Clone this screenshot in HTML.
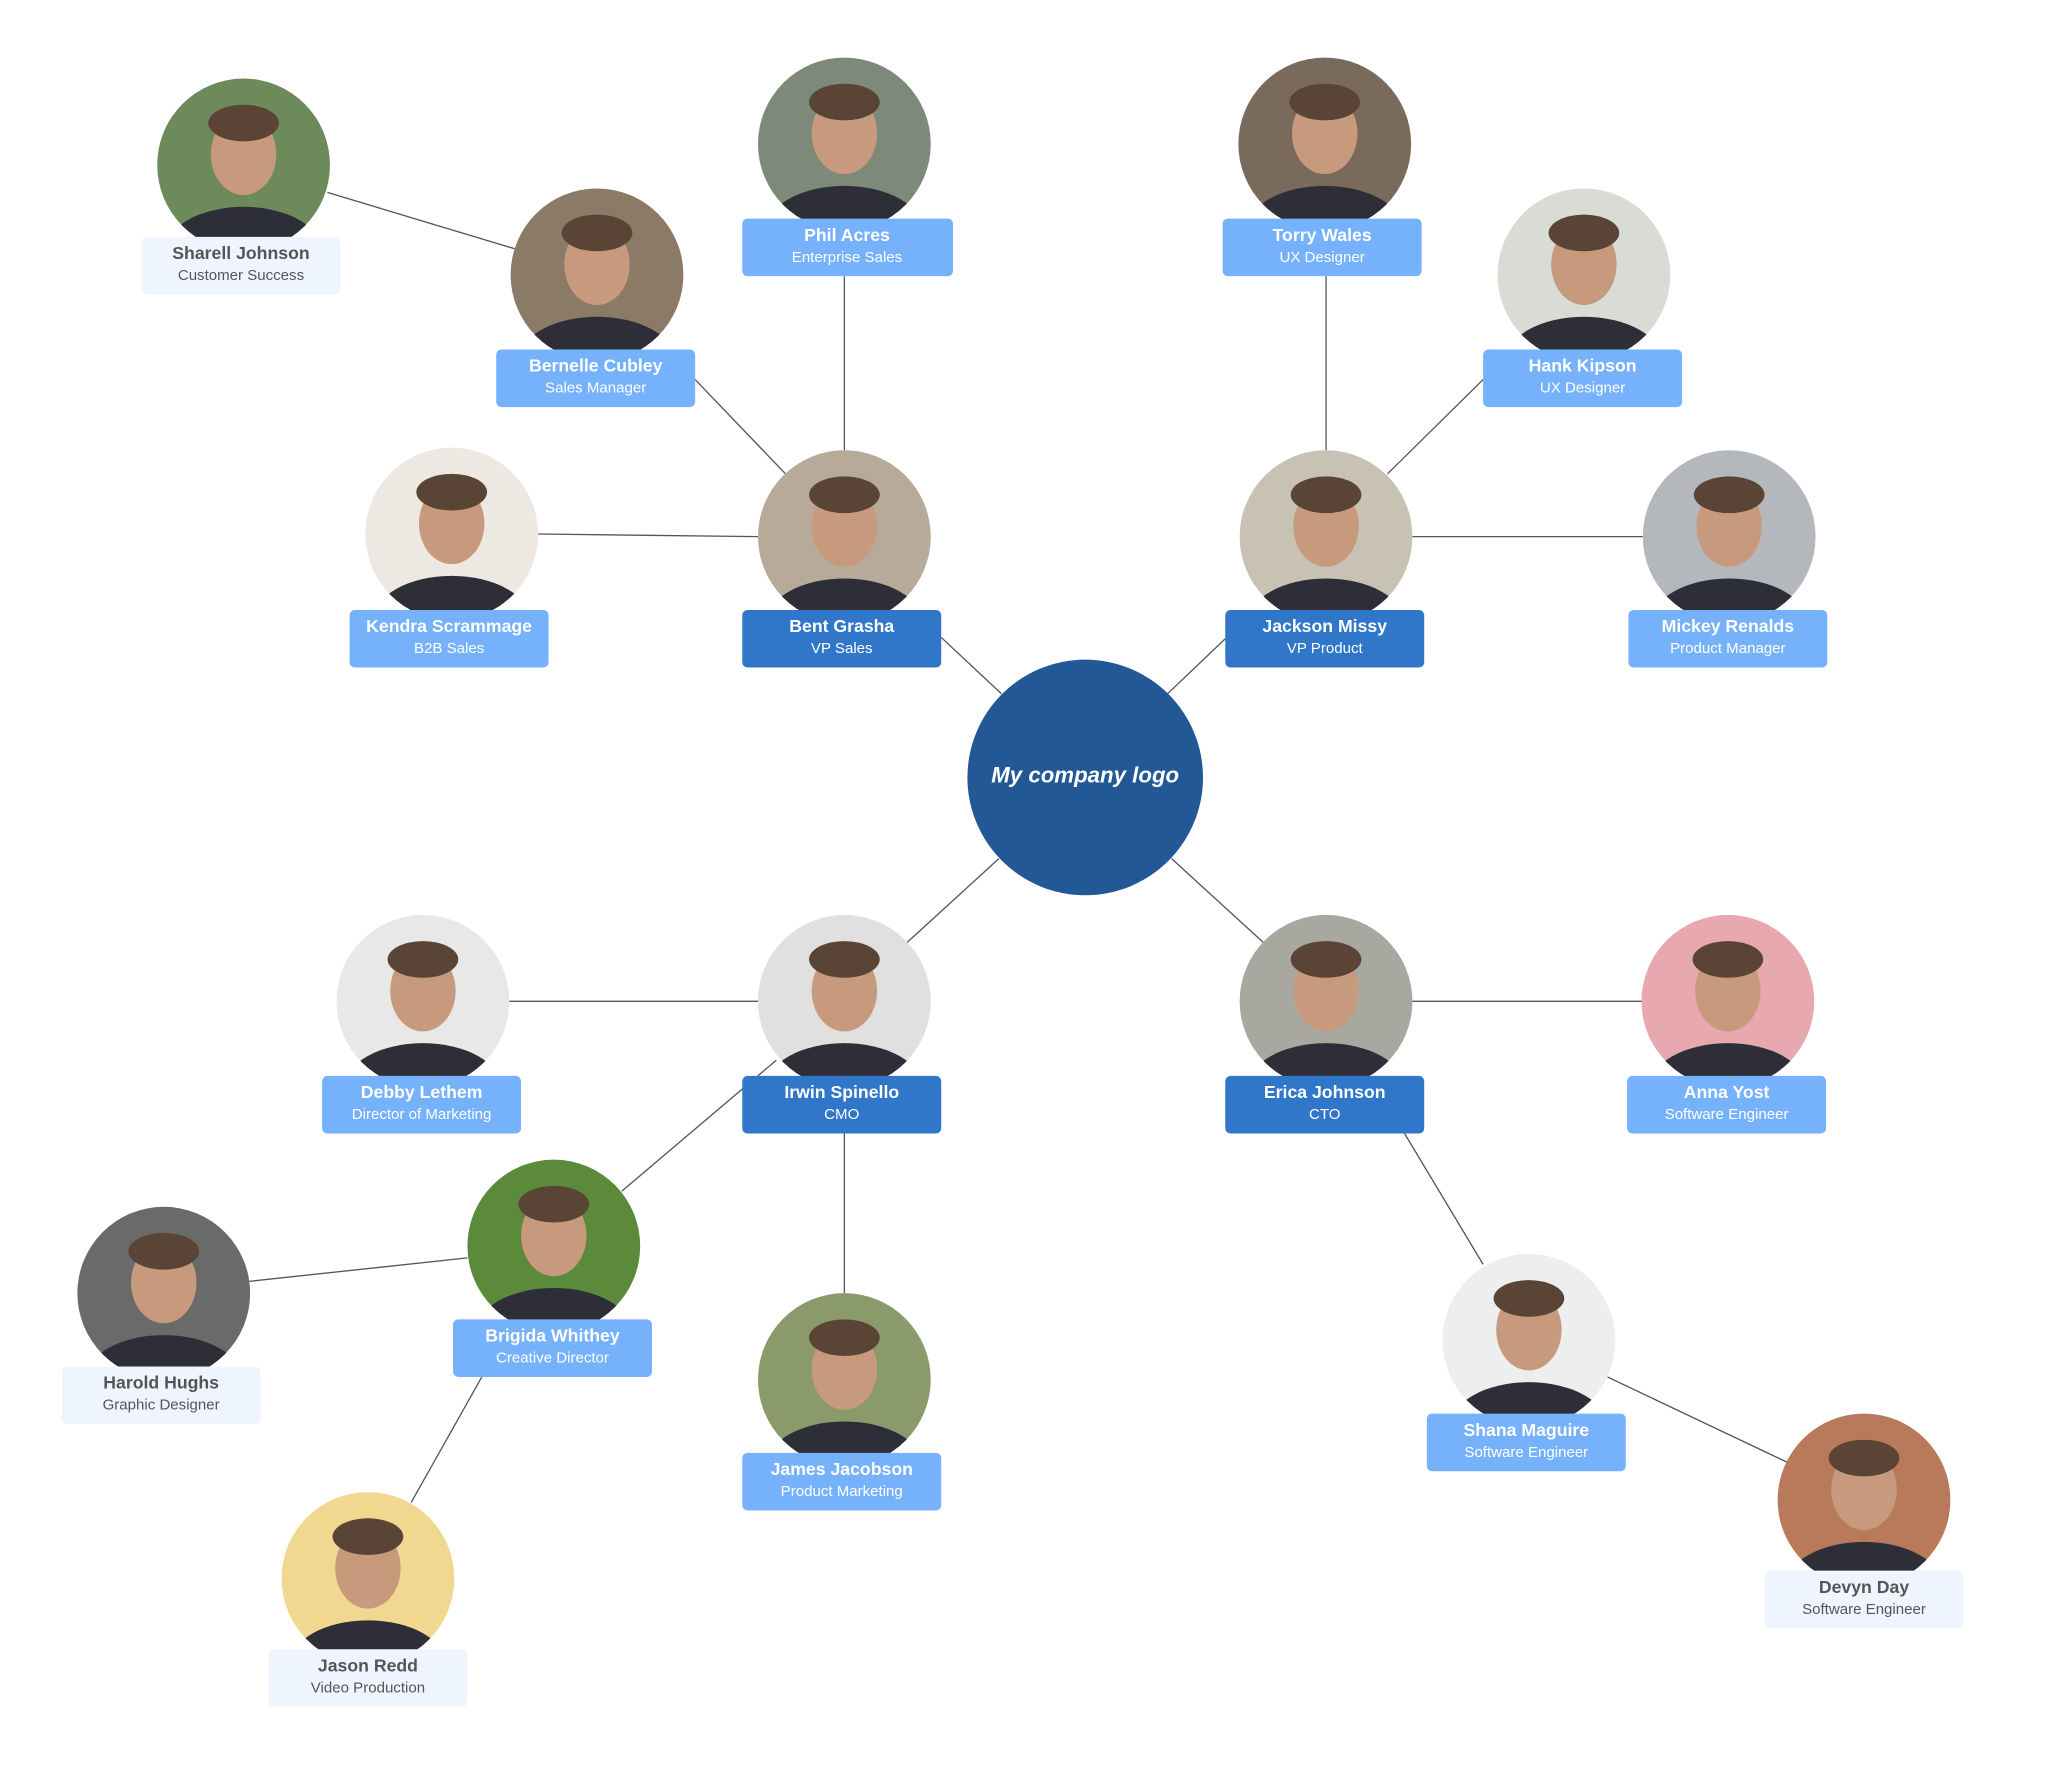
<!DOCTYPE html>
<html><head><meta charset="utf-8"><style>
html,body{margin:0;padding:0;background:#fff;}
svg{display:block;}
text{font-family:"Liberation Sans",Arial,sans-serif;text-anchor:middle;}
.n{font-weight:bold;font-size:13.5px;}
.t{font-size:11.5px;}
.w{fill:#fff;}
.g{fill:#555;}
.m{fill:#76b1fc;}
.d{fill:#3177c9;}
.l{fill:#eef5ff;}
line{stroke:#555;stroke-width:1;}
</style></head><body>
<svg width="2050" height="1767" viewBox="0 0 1566 1350" xmlns="http://www.w3.org/2000/svg">
<defs>
<clipPath id="cp"><circle r="66"/></clipPath>
<g id="face">
<g clip-path="url(#cp)">
<ellipse cx="0" cy="-8" rx="25" ry="31" fill="#c79a7e"/>
<ellipse cx="0" cy="-32" rx="27" ry="14" fill="#5a4436"/>
<ellipse cx="0" cy="66" rx="60" ry="34" fill="#2e2e38"/>
</g>
</g>
</defs>
<!-- connectors -->
<line x1="250" y1="147" x2="393" y2="190"/>
<line x1="531" y1="290" x2="600" y2="362"/>
<line x1="645" y1="211" x2="645" y2="344"/>
<line x1="411" y1="408" x2="579" y2="410"/>
<line x1="719" y1="487" x2="765" y2="530"/>
<line x1="1013" y1="211" x2="1013" y2="344"/>
<line x1="1133" y1="290" x2="1060" y2="362"/>
<line x1="1079" y1="410" x2="1255" y2="410"/>
<line x1="936" y1="488" x2="892" y2="530"/>
<line x1="763" y1="656" x2="693" y2="720"/>
<line x1="389" y1="765" x2="579" y2="765"/>
<line x1="593" y1="810" x2="475" y2="910"/>
<line x1="190" y1="979" x2="357" y2="961"/>
<line x1="368" y1="1052" x2="314" y2="1148"/>
<line x1="645" y1="866" x2="645" y2="988"/>
<line x1="895" y1="656" x2="965" y2="720"/>
<line x1="1079" y1="765" x2="1255" y2="765"/>
<line x1="1073" y1="866" x2="1133" y2="966"/>
<line x1="1228" y1="1052" x2="1365" y2="1117"/>
<!-- center -->
<circle cx="829" cy="594" r="90" fill="#235897"/>
<text x="829" y="598" class="w" style="font-weight:bold;font-style:italic;font-size:17px">My company logo</text>
<!-- photos -->
<g transform="translate(186,126)"><circle r="66" fill="#6d8a5a"/><use href="#face"/></g>
<g transform="translate(456,210)"><circle r="66" fill="#8a7a66"/><use href="#face"/></g>
<g transform="translate(645,110)"><circle r="66" fill="#7d8a7a"/><use href="#face"/></g>
<g transform="translate(345,408)"><circle r="66" fill="#eee8e2"/><use href="#face"/></g>
<g transform="translate(645,410)"><circle r="66" fill="#b8aa98"/><use href="#face"/></g>
<g transform="translate(1012,110)"><circle r="66" fill="#7a6a5c"/><use href="#face"/></g>
<g transform="translate(1210,210)"><circle r="66" fill="#d8dcd4"/><use href="#face"/></g>
<g transform="translate(1013,410)"><circle r="66" fill="#c8c2b4"/><use href="#face"/></g>
<g transform="translate(1321,410)"><circle r="66" fill="#b4b8bc"/><use href="#face"/></g>
<g transform="translate(323,765)"><circle r="66" fill="#e8e8e8"/><use href="#face"/></g>
<g transform="translate(645,765)"><circle r="66" fill="#e0e0e0"/><use href="#face"/></g>
<g transform="translate(1013,765)"><circle r="66" fill="#a8a8a0"/><use href="#face"/></g>
<g transform="translate(1320,765)"><circle r="66" fill="#e8a8b0"/><use href="#face"/></g>
<g transform="translate(423,952)"><circle r="66" fill="#5a8a3a"/><use href="#face"/></g>
<g transform="translate(125,988)"><circle r="66" fill="#6a6a6a"/><use href="#face"/></g>
<g transform="translate(645,1054)"><circle r="66" fill="#8a9a6a"/><use href="#face"/></g>
<g transform="translate(281,1206)"><circle r="66" fill="#f0d890"/><use href="#face"/></g>
<g transform="translate(1168,1024)"><circle r="66" fill="#eeeeee"/><use href="#face"/></g>
<g transform="translate(1424,1146)"><circle r="66" fill="#b87a5a"/><use href="#face"/></g>
<!-- labels -->
<rect x="108" y="181" width="152" height="44" rx="4" class="l"/><text x="184" y="198" class="n g">Sharell Johnson</text><text x="184" y="214" class="t g">Customer Success</text>
<rect x="379" y="267" width="152" height="44" rx="4" class="m"/><text x="455" y="284" class="n w">Bernelle Cubley</text><text x="455" y="300" class="t w">Sales Manager</text>
<rect x="567" y="167" width="161" height="44" rx="4" class="m"/><text x="647" y="184" class="n w">Phil Acres</text><text x="647" y="200" class="t w">Enterprise Sales</text>
<rect x="267" y="466" width="152" height="44" rx="4" class="m"/><text x="343" y="483" class="n w">Kendra Scrammage</text><text x="343" y="499" class="t w">B2B Sales</text>
<rect x="567" y="466" width="152" height="44" rx="4" class="d"/><text x="643" y="483" class="n w">Bent Grasha</text><text x="643" y="499" class="t w">VP Sales</text>
<rect x="934" y="167" width="152" height="44" rx="4" class="m"/><text x="1010" y="184" class="n w">Torry Wales</text><text x="1010" y="200" class="t w">UX Designer</text>
<rect x="1133" y="267" width="152" height="44" rx="4" class="m"/><text x="1209" y="284" class="n w">Hank Kipson</text><text x="1209" y="300" class="t w">UX Designer</text>
<rect x="936" y="466" width="152" height="44" rx="4" class="d"/><text x="1012" y="483" class="n w">Jackson Missy</text><text x="1012" y="499" class="t w">VP Product</text>
<rect x="1244" y="466" width="152" height="44" rx="4" class="m"/><text x="1320" y="483" class="n w">Mickey Renalds</text><text x="1320" y="499" class="t w">Product Manager</text>
<rect x="246" y="822" width="152" height="44" rx="4" class="m"/><text x="322" y="839" class="n w">Debby Lethem</text><text x="322" y="855" class="t w">Director of Marketing</text>
<rect x="567" y="822" width="152" height="44" rx="4" class="d"/><text x="643" y="839" class="n w">Irwin Spinello</text><text x="643" y="855" class="t w">CMO</text>
<rect x="936" y="822" width="152" height="44" rx="4" class="d"/><text x="1012" y="839" class="n w">Erica Johnson</text><text x="1012" y="855" class="t w">CTO</text>
<rect x="1243" y="822" width="152" height="44" rx="4" class="m"/><text x="1319" y="839" class="n w">Anna Yost</text><text x="1319" y="855" class="t w">Software Engineer</text>
<rect x="346" y="1008" width="152" height="44" rx="4" class="m"/><text x="422" y="1025" class="n w">Brigida Whithey</text><text x="422" y="1041" class="t w">Creative Director</text>
<rect x="47" y="1044" width="152" height="44" rx="4" class="l"/><text x="123" y="1061" class="n g">Harold Hughs</text><text x="123" y="1077" class="t g">Graphic Designer</text>
<rect x="567" y="1110" width="152" height="44" rx="4" class="m"/><text x="643" y="1127" class="n w">James Jacobson</text><text x="643" y="1143" class="t w">Product Marketing</text>
<rect x="205" y="1260" width="152" height="44" rx="4" class="l"/><text x="281" y="1277" class="n g">Jason Redd</text><text x="281" y="1293" class="t g">Video Production</text>
<rect x="1090" y="1080" width="152" height="44" rx="4" class="m"/><text x="1166" y="1097" class="n w">Shana Maguire</text><text x="1166" y="1113" class="t w">Software Engineer</text>
<rect x="1348" y="1200" width="152" height="44" rx="4" class="l"/><text x="1424" y="1217" class="n g">Devyn Day</text><text x="1424" y="1233" class="t g">Software Engineer</text>
</svg>
</body></html>
